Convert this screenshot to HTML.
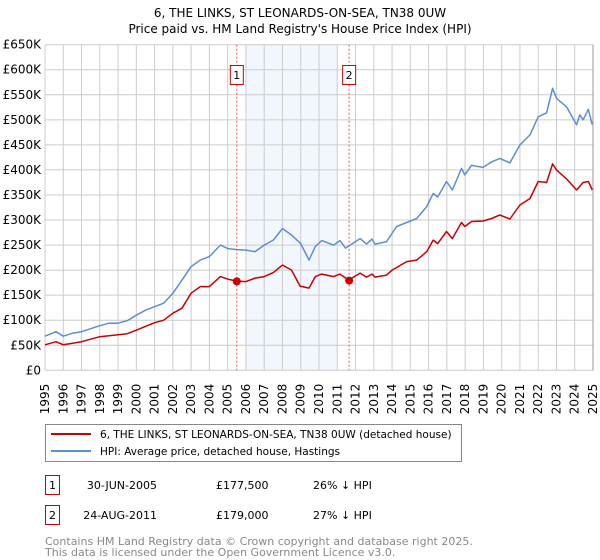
<!DOCTYPE html>
<html><head><meta charset="utf-8"><style>
body{margin:0;background:#fff;font-family:"DejaVu Sans","Liberation Sans",sans-serif;}
svg{display:block}
</style></head><body>
<svg id="chart" width="600" height="560" xmlns="http://www.w3.org/2000/svg" font-family="DejaVu Sans, Liberation Sans, sans-serif">
<text x="300" y="17" text-anchor="middle" font-size="12">6, THE LINKS, ST LEONARDS-ON-SEA, TN38 0UW</text>
<text x="300" y="33" text-anchor="middle" font-size="12">Price paid vs. HM Land Registry's House Price Index (HPI)</text>
<g id="plot"></g>
<rect x="45.5" y="424.5" width="416" height="37" fill="#fff" stroke="#888"/>
<line x1="51" y1="434" x2="91" y2="434" stroke="#cc0000" stroke-width="2"/>
<text x="100" y="438" font-size="10.5">6, THE LINKS, ST LEONARDS-ON-SEA, TN38 0UW (detached house)</text>
<line x1="51" y1="451" x2="91" y2="451" stroke="#5b8fd4" stroke-width="2"/>
<text x="100" y="455" font-size="10.5">HPI: Average price, detached house, Hastings</text>
<g font-size="11">
<rect x="45.5" y="475.5" width="14" height="19" fill="#fff" stroke="#cc0000"/>
<text x="52.5" y="489" text-anchor="middle">1</text>
<text x="157" y="489" text-anchor="end">30-JUN-2005</text>
<text x="216" y="489">£177,500</text>
<text x="313" y="489">26% ↓ HPI</text>
</g>
<g font-size="11">
<rect x="45.5" y="505.5" width="14" height="19" fill="#fff" stroke="#cc0000"/>
<text x="52.5" y="519" text-anchor="middle">2</text>
<text x="157" y="519" text-anchor="end">24-AUG-2011</text>
<text x="216" y="519">£179,000</text>
<text x="313" y="519">27% ↓ HPI</text>
</g>
<text x="45" y="545" font-size="11" fill="#888">Contains HM Land Registry data © Crown copyright and database right 2025.</text>
<text x="45" y="556" font-size="11" fill="#888">This data is licensed under the Open Government Licence v3.0.</text>
</svg>
<script>
const hpiYears=[1995,1995.6,1996,1996.5,1997,1998,1998.5,1999,1999.5,2000,2000.5,2001,2001.5,2002,2002.5,2003,2003.5,2004,2004.6,2005,2005.5,2006,2006.5,2007,2007.5,2008,2008.5,2009,2009.45,2009.8,2010.15,2010.8,2011.15,2011.45,2012.25,2012.6,2012.9,2013.07,2013.7,2014.25,2014.8,2015.35,2015.9,2016.25,2016.5,2016.98,2017.3,2017.8,2017.98,2018.35,2018.98,2019.45,2019.9,2020.45,2021,2021.55,2022,2022.46,2022.79,2023,2023.55,2024.1,2024.28,2024.46,2024.74,2024.96];
const hpiValues=[68,77,68,74,77,89,94,94,99,110,120,127,134,154,180,207,220,227,250,243,241,240,237,250,260,283,270,253,220,247,259,250,259,244,263,252,262,252,257,287,295,303,327,353,346,377,360,403,390,409,405,416,423,414,450,470,506,514,563,543,526,490,510,500,521,490];
const priceYears=[1995,1995.6,1996,1997,1998,1999,1999.5,2000,2001,2001.5,2002,2002.5,2003,2003.5,2004,2004.6,2005,2005.5,2006,2006.5,2007,2007.5,2008,2008.5,2008.96,2009.45,2009.8,2010.15,2010.8,2011.15,2011.62,2012.25,2012.6,2012.9,2013.07,2013.7,2014,2014.8,2015.35,2015.9,2016.25,2016.5,2016.98,2017.3,2017.8,2017.98,2018.35,2018.98,2019.45,2019.9,2020.45,2021,2021.55,2022,2022.46,2022.79,2023,2023.55,2024.1,2024.46,2024.74,2024.96];
const priceValues=[51,57,51,57,67,71,73,80,95,100,114,124,154,167,167,187,182,178,177,184,187,195,210,200,168,164,187,192,187,192,180,194,186,192,186,190,200,217,220,237,260,253,277,263,295,287,297,298,303,310,302,330,343,377,375,412,400,382,360,375,377,360];
const saleYears=[2005.5,2011.65];
const saleValues=[177.5,179];
const saleLabels=["1","2"];
const yTicks=[0,50,100,150,200,250,300,350,400,450,500,550,600,650];
const yTickLabels=["£0","£50K","£100K","£150K","£200K","£250K","£300K","£350K","£400K","£450K","£500K","£550K","£600K","£650K"];
const xTicks=[1995,1996,1997,1998,1999,2000,2001,2002,2003,2004,2005,2006,2007,2008,2009,2010,2011,2012,2013,2014,2015,2016,2017,2018,2019,2020,2021,2022,2023,2024,2025];
const shadeRange=[2006,2011];

const L=45,R=593,T=44.7,B=370.3;
const xS=y=>L+(y-1995)/30*(R-L);
const yS=v=>B-v/650*(B-T);
const NS="http://www.w3.org/2000/svg";
const g=document.getElementById('plot');
function mk(t,a){const e=document.createElementNS(NS,t);for(const k in a)e.setAttribute(k,a[k]);g.appendChild(e);return e;}

let e=mk('rect',{x:xS(shadeRange[0]),y:T,width:xS(shadeRange[1])-xS(shadeRange[0]),height:B-T,fill:'#f2f6fd'});


yTicks.forEach((v,i)=>{
  let l=mk('line',{x1:L,x2:R,y1:yS(v),y2:yS(v),stroke:'#cccccc','stroke-width':1});
  
  
  let t=mk('text',{x:L-4,y:yS(v)+4,'text-anchor':'end','font-size':12});
  t.textContent=yTickLabels[i];
  
  
});
xTicks.forEach(y=>{
  let l=mk('line',{x1:xS(y),x2:xS(y),y1:T,y2:B,stroke:'#cccccc','stroke-width':1});
  
  
  let t=mk('text',{transform:`translate(${xS(y)+4},${B+44}) rotate(-90)`,'font-size':12});
  t.textContent=String(y);
  
  
});
saleYears.forEach((y,i)=>{
  let l=mk('line',{x1:xS(y),x2:xS(y),y1:T,y2:B,stroke:'#ee5555','stroke-width':1,'stroke-dasharray':'2,2'});
  
  
  let r=mk('rect',{x:xS(y)-6.5,y:65.5,width:13,height:19,fill:'#fff',stroke:'#cc0000'});
  
  
  let t=mk('text',{x:xS(y),y:79,'text-anchor':'middle','font-size':11});
  t.textContent=saleLabels[i];
  
  
});
function path(xs,vs,c,name){
  const d=xs.map((y,i)=>(i?'L':'M')+xS(y).toFixed(1)+','+yS(vs[i]).toFixed(1)).join('');
  const p=mk('path',{d:d,fill:'none',stroke:c,'stroke-width':1.5,'stroke-linejoin':'round'});
  
  
}
path(hpiYears,hpiValues,'#5b8fd4','hpi-line');
path(priceYears,priceValues,'#cc0000','price-line');
saleYears.forEach((y,i)=>{
  let c=mk('circle',{cx:xS(y),cy:yS(saleValues[i]),r:4,fill:'#cc0000'});
  
  
});
let ax=mk('line',{x1:R,x2:R,y1:T,y2:B,stroke:'#999','stroke-width':1});


</script>
</body></html>
